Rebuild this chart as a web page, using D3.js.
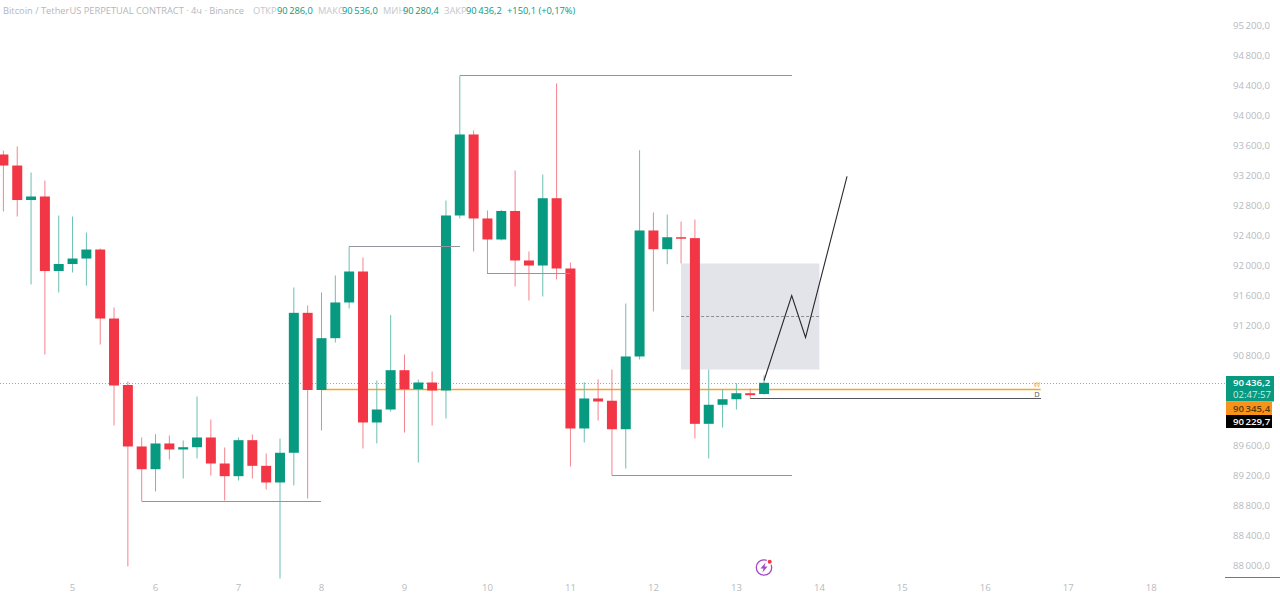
<!DOCTYPE html>
<html>
<head>
<meta charset="utf-8">
<script src="https://cdn.jsdelivr.net/npm/d3@7/dist/d3.min.js"></script>
<style>
  html, body { margin: 0; padding: 0; background: #fff; overflow: hidden; }
  text { font-family: "Open Sans", "DejaVu Sans", sans-serif; }
</style>
</head>
<body>
<div id="chart"></div>
<script>
var svgWidth = 1280;
var svgHeight = 596;

// candle values
var opens = [93480,93333,92873,92920,91927,92020,92093,92213,91293,90407,89587,89284,89627,89547,89577,89707,89360,89191,89671,89329,89107,89503,91369,90340,91031,91507,91920,89907,90080,90604,90351,90440,90333,92667,93747,92627,92347,92727,92067,92000,92897,91960,89827,90227,90197,89817,90787,92467,92217,92377,92365,89889,90143,90217,90297,90286];
var closes = [93333,92873,92920,91927,92020,92093,92213,91293,90400,89587,89284,89627,89547,89577,89707,89360,89191,89671,89329,89107,89503,91369,90340,91031,91507,91920,89907,90080,90604,90351,90440,90333,92667,93747,92627,92347,92727,92067,92000,92897,91960,89827,90227,90187,89817,90787,92467,92217,92377,92365,89889,90143,90217,90297,90271,90436];
var highs = [93533,93587,93240,93133,92667,92653,92440,92227,91440,90453,89707,89751,89733,89667,90253,89947,89573,89707,89747,89493,89693,91707,91467,91640,91867,92253,92107,90467,91337,90813,90480,90587,92867,94533,93800,92733,92740,93267,92187,93213,94427,92040,90444,90484,90613,91493,93537,92707,92680,92587,92613,90613,90347,90431,90360,90536];
var lows = [92720,92653,91747,90813,91640,91907,91733,90947,89867,87987,88853,88987,89413,89160,89427,89200,88867,89133,89160,89013,87827,89067,88893,89800,90973,91427,89560,89627,90053,89773,89373,89867,89960,92627,92187,91893,92333,91720,91533,91587,91813,89320,89640,89933,89200,89293,90747,91387,92017,92027,89693,89427,89840,90080,90227,90280];

// axis ticks
var priceTicks = [95200,94800,94400,94000,93600,93200,92800,92400,92000,91600,91200,90800,89600,89200,88800,88400,88000];
var dayLabels = [5,6,7,8,9,10,11,12,13,14,15,16,17,18];
var dayIndexes = [5,11,17,23,29,35,41,47,53,59,65,71,77,83];

// levels drawn on the chart: [from candle, to candle, price]
var levelStarts = [33,25,35,10,44];
var levelEnds = [57,33,41,23,57];
var levelPrices = [94533,92253,91893,88853,89200];

// zigzag projection
var zigIndexes = [55,57,58,61];
var zigPrices = [90467,91600,91040,93187];

// zone
var zoneIndexes = [49,59];
var zonePrices = [92027,90613,91320];

var lastPrice = 90436.2;
var weeklyPrice = 90345.4;
var dailyPrice = 90229.7;

var headerTexts = ["Bitcoin / TetherUS PERPETUAL CONTRACT · 4ч · Binance", "ОТКР", "90\u2009286,0", "МАКС", "90\u2009536,0", "МИН", "90\u2009280,4", "ЗАКР", "90\u2009436,2", "+150,1 (+0,17%)"];
var headerLeft = [3, 253, 277, 318, 342, 383, 403, 444, 466, 507];
var headerColors = ["#b4b6bd", "#c4c6cc", "#089981", "#c4c6cc", "#089981", "#c4c6cc", "#089981", "#c4c6cc", "#089981", "#089981"];

var green = "#089981";
var red = "#f23645";
var axisGrey = "#b8bac0";

var x = d3.scaleLinear().domain([0, 83]).range([3.4, 1151.3]);
var y = d3.scaleLinear().domain([88000, 95200]).range([565.5, 25.5]);

var svg = d3.select("#chart")
  .append("svg")
  .attr("width", svgWidth)
  .attr("height", svgHeight)
  .style("display", "block");

// header
svg.selectAll(".head")
  .data(headerTexts)
  .enter()
  .append("text")
  .attr("class", "head")
  .attr("x", (d, i) => headerLeft[i])
  .attr("y", 14)
  .attr("fill", (d, i) => headerColors[i])
  .style("font-size", "9.3px")
  .text(d => d);

// zone behind the candles
svg.append("rect")
  .attr("x", x(zoneIndexes[0]))
  .attr("y", y(zonePrices[0]))
  .attr("width", x(zoneIndexes[1]) - x(zoneIndexes[0]))
  .attr("height", y(zonePrices[1]) - y(zonePrices[0]))
  .attr("fill", "#e3e4e9");

svg.append("line")
  .attr("x1", x(zoneIndexes[0]))
  .attr("x2", x(zoneIndexes[1]))
  .attr("y1", y(zonePrices[2]))
  .attr("y2", y(zonePrices[2]))
  .attr("stroke", "#8d8f96")
  .attr("stroke-dasharray", "3,2");

// last price dotted line
svg.append("line")
  .attr("x1", 0)
  .attr("x2", 1225)
  .attr("y1", y(lastPrice))
  .attr("y2", y(lastPrice))
  .attr("transform", "translate(0, 0.7)")
  .attr("stroke", "#5cc4b4")
  .attr("stroke-width", 1.2)
  .attr("stroke-dasharray", "1,2");

// weekly and daily lines, under the candles
svg.append("line")
  .attr("x1", x(23))
  .attr("x2", x(75))
  .attr("y1", y(weeklyPrice))
  .attr("y2", y(weeklyPrice))
  .attr("stroke", "#f5a623")
  .attr("stroke-width", 1.5);

svg.append("line")
  .attr("x1", x(54))
  .attr("x2", x(75))
  .attr("y1", y(dailyPrice))
  .attr("y2", y(dailyPrice))
  .attr("stroke", "#55565c")
  .attr("shape-rendering", "crispEdges");

// wicks and bodies
var candles = d3.range(opens.length);

svg.selectAll(".wick")
  .data(candles)
  .enter()
  .append("line")
  .attr("class", "wick")
  .attr("x1", i => x(i))
  .attr("x2", i => x(i))
  .attr("y1", i => y(highs[i]))
  .attr("y2", i => y(lows[i]))
  .attr("stroke", i => closes[i] >= opens[i] ? "#6cbfb2" : "#f5838d")
  .attr("stroke-width", 1);

svg.selectAll(".body")
  .data(candles)
  .enter()
  .append("rect")
  .attr("class", "body")
  .attr("x", i => x(i) - 5)
  .attr("width", 10)
  .attr("y", i => y(Math.max(opens[i], closes[i])))
  .attr("height", i => Math.max(1.5, Math.abs(y(opens[i]) - y(closes[i]))))
  .attr("fill", i => closes[i] >= opens[i] ? green : red);

// levels
svg.selectAll(".level")
  .data(levelPrices)
  .enter()
  .append("line")
  .attr("class", "level")
  .attr("x1", (d, i) => x(levelStarts[i]))
  .attr("x2", (d, i) => x(levelEnds[i]))
  .attr("y1", d => y(d))
  .attr("y2", d => y(d))
  .attr("stroke", "#93959b")
  .attr("stroke-width", 1)
  .attr("shape-rendering", "crispEdges");

svg.append("text")
  .attr("x", 1037)
  .attr("y", 387.3)
  .attr("text-anchor", "middle")
  .style("font-size", "7.5px")
  .attr("fill", "#f0a93b")
  .text("W");

svg.append("text")
  .attr("x", 1037)
  .attr("y", 396.5)
  .attr("text-anchor", "middle")
  .style("font-size", "7.5px")
  .attr("fill", "#55565c")
  .text("D");

// zigzag
var zigLine = d3.line()
  .x(i => x(zigIndexes[i]))
  .y(i => y(zigPrices[i]));

svg.append("path")
  .attr("d", zigLine(d3.range(zigIndexes.length)))
  .attr("fill", "none")
  .attr("stroke", "#2a2a2e")
  .attr("stroke-width", 1.1);

// price axis
var priceAxis = d3.axisRight(y)
  .tickValues(priceTicks)
  .tickSize(0)
  .tickPadding(0)
  .tickFormat(d => d3.format(".1f")(d).replace(/(\d\d)(\d{3})\.(\d)/, "$1\u2009$2,$3"));

var priceGroup = svg.append("g")
  .attr("transform", "translate(1233, 0)")
  .call(priceAxis);

priceGroup.select(".domain").remove();
priceGroup.selectAll("text")
  .attr("fill", axisGrey)
  .style("font-size", "9.6px");

// short rule under the price scale
svg.append("line")
  .attr("x1", 1225)
  .attr("x2", 1280)
  .attr("y1", 577.5)
  .attr("y2", 577.5)
  .attr("stroke", "#777");

// day axis
var dayAxis = d3.axisBottom(x)
  .tickValues(dayIndexes)
  .tickSize(0)
  .tickPadding(0)
  .tickFormat((d, i) => dayLabels[i]);

var dayGroup = svg.append("g")
  .attr("transform", "translate(-0.5, 584)")
  .call(dayAxis);

dayGroup.select(".domain").remove();
dayGroup.selectAll("text")
  .attr("fill", axisGrey)
  .style("font-size", "9.6px");

// price tags on the right
var tagTexts = ["90\u2009436,2", "02:47:57", "90\u2009345,4", "90\u2009229,7"];
var tagColors = ["#fff", "#cdeae5", "#5a3c0c", "#fff"];
var tagY = [386, 397.5, 411.5, 425];

svg.append("rect").attr("x", 1226).attr("y", 376).attr("width", 48).attr("height", 25.5).attr("fill", green);
svg.append("rect").attr("x", 1226).attr("y", 401.5).attr("width", 46).attr("height", 13.5).attr("fill", "#f7931a");
svg.append("rect").attr("x", 1226).attr("y", 415).attr("width", 46).attr("height", 13).attr("fill", "#000");

svg.selectAll(".tag")
  .data(tagTexts)
  .enter()
  .append("text")
  .attr("class", "tag")
  .attr("x", 1233)
  .attr("y", (d, i) => tagY[i])
  .attr("fill", (d, i) => tagColors[i])
  .style("font-size", "9.6px")
  .style("font-weight", (d, i) => i == 1 ? 400 : 600)
  .text(d => d);

// bolt icon
var icon = svg.append("g").attr("transform", "translate(764, 567.5)");
icon.append("circle").attr("r", 7.7).attr("fill", "#fff").attr("stroke", "#a349c4").attr("stroke-width", 1.3);
icon.append("path").attr("d", "M1.5,-5 L-3.5,1 L-0.5,1 L-1.5,5 L3.5,-1 L0.5,-1 Z").attr("fill", "#a349c4");
icon.append("circle").attr("cx", 5.7).attr("cy", -5.8).attr("r", 3.2).attr("fill", "#fff");
icon.append("circle").attr("cx", 5.7).attr("cy", -5.8).attr("r", 2).attr("fill", "#f23645");
</script>
</body>
</html>
